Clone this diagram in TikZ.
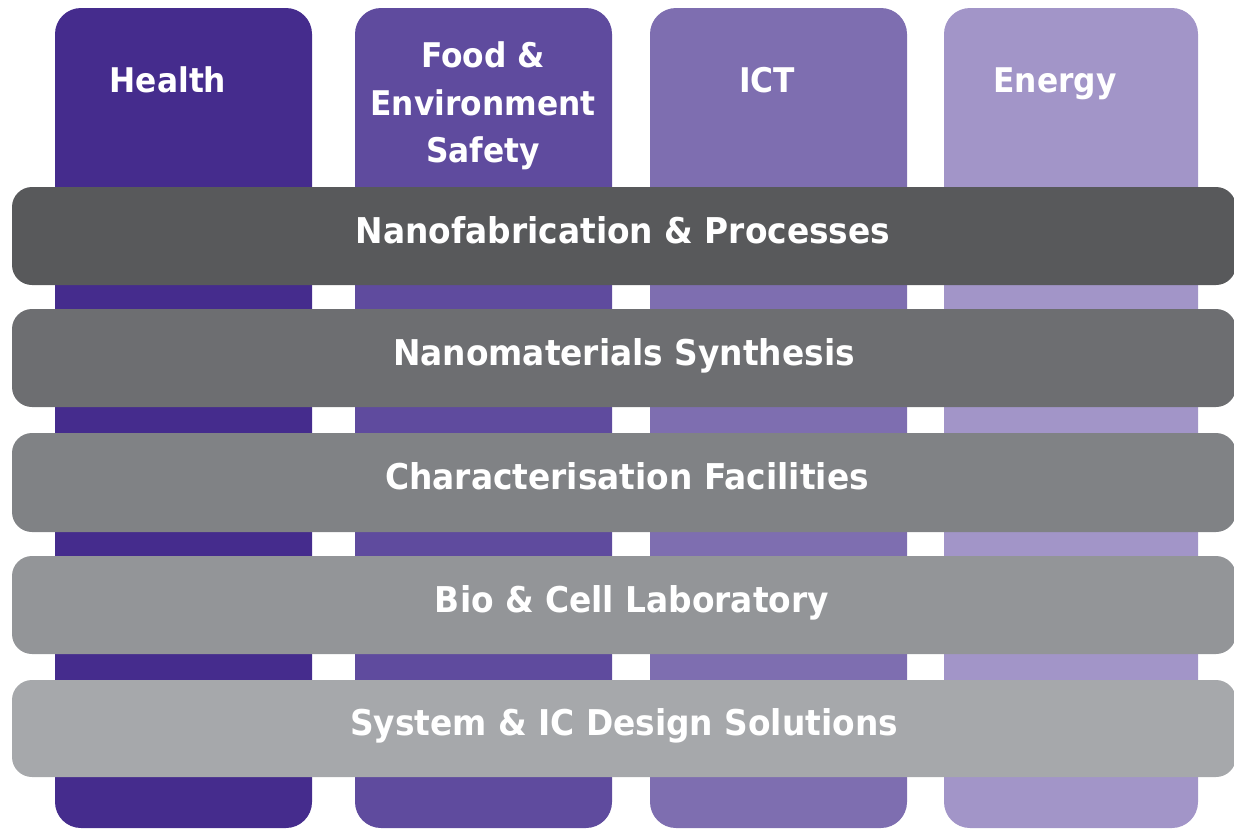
\documentclass[tikz,border=0pt]{standalone}
\usepackage{fontspec}
\newfontfamily\labfont{DejaVu Sans}
\definecolor{cHealth}{HTML}{452C8D}
\definecolor{cFood}{HTML}{5F4B9E}
\definecolor{cICT}{HTML}{7E6EB0}
\definecolor{cEnergy}{HTML}{A295C8}
\definecolor{bA}{HTML}{58595B}
\definecolor{bB}{HTML}{6D6E71}
\definecolor{bC}{HTML}{808285}
\definecolor{bD}{HTML}{939598}
\definecolor{bE}{HTML}{A6A8AB}
\newcommand{\lbl}[1]{\scalebox{0.92}[1]{#1}}
\newcommand{\blbl}[1]{\scalebox{0.925}[1]{#1}}
\tikzset{
  colbox/.style={rounded corners=26pt},
  barbox/.style={rounded corners=20pt},
  txt/.style={text=white, font=\labfont\bfseries\fontsize{34}{47}\selectfont, inner sep=0pt, anchor=base},
  bartxt/.style={txt, font=\labfont\bfseries\fontsize{35.5}{47}\selectfont},
}
\begin{document}
\begin{tikzpicture}[x=1pt,y=-1pt]
\useasboundingbox (0,0) rectangle (1234,830);
\begin{scope}
\clip (0,0) rectangle (1234,830);
% columns
\fill[cHealth, colbox] (55,8) rectangle (312,828);
\fill[cFood, colbox] (355,8) rectangle (612,828);
\fill[cICT, colbox] (650,8) rectangle (907,828);
\fill[cEnergy, colbox] (944,8) rectangle (1198,828);
% bars
\fill[bA, barbox] (12,187) rectangle (1236,285);
\fill[bB, barbox] (12,309) rectangle (1236,407);
\fill[bC, barbox] (12,433) rectangle (1236,532);
\fill[bD, barbox] (12,556) rectangle (1236,654);
\fill[bE, barbox] (12,680) rectangle (1236,777);
\end{scope}
% column labels
\node[txt] (health) at (168,92) {\lbl{Health}};
\node[txt] (food1) at (483,67) {\lbl{Food \&}};
\node[txt] (food2) at (483,115) {\lbl{Environment}};
\node[txt] (food3) at (483,162) {\lbl{Safety}};
\node[txt] (ict) at (767,92) {\lbl{ICT}};
\node[txt] (energy) at (1055,92) {\lbl{Energy}};
% bar labels
\node[bartxt] (nanofab) at (623,243) {\blbl{Nanofabrication \& Processes}};
\node[bartxt] (nanomat) at (624,365) {\blbl{Nanomaterials Synthesis}};
\node[bartxt] (charac) at (627,489) {\blbl{Characterisation Facilities}};
\node[bartxt] (bio) at (632,612) {\blbl{Bio \& Cell Laboratory}};
\node[bartxt] (system) at (624,735) {\blbl{System \& IC Design Solutions}};
\end{tikzpicture}
\end{document}
